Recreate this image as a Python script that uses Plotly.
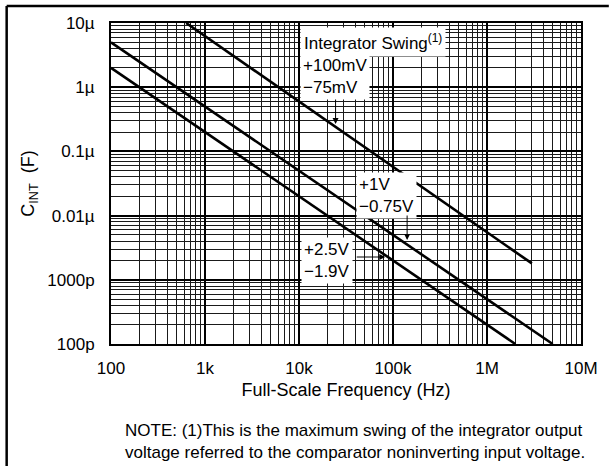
import plotly.graph_objects as go

# ---- data ----
swing_labels = ["+100mV/−75mV", "+1V/−0.75V", "+2.5V/−1.9V"]
freq_start = [630, 100, 100]            # Hz
freq_end = [3.0e6, 5.0e6, 2.0e6]        # Hz
cap_start = [10e-6, 5.0e-6, 2.0e-6]     # F
cap_end = [1.8e-9, 100e-12, 100e-12]    # F
x_tickvals = [1e2, 1e3, 1e4, 1e5, 1e6, 1e7]
x_ticktext = ["100", "1k", "10k", "100k", "1M", "10M"]
y_tickvals = [1e-5, 1e-6, 1e-7, 1e-8, 1e-9, 1e-10]
y_ticktext = ["10µ", "1µ", "0.1µ", "0.01µ", "1000p", "100p"]

W, H = 610, 466
L, R, T, B = 111, 584, 23, 344


def px(x):
    return (x - L) / (R - L)


def py(y):
    return (B - y) / (B - T)


fig = go.Figure()
for i in range(3):
    fig.add_trace(go.Scatter(
        x=[freq_start[i], freq_end[i]], y=[cap_start[i], cap_end[i]],
        mode="lines", line=dict(color="black", width=2.6),
        name=swing_labels[i], showlegend=False, hoverinfo="skip"))

x_minor = [m * 10 ** e for e in range(2, 7) for m in range(2, 10)]
y_minor = [m * 10 ** e for e in range(-10, -5) for m in range(2, 10)]

font = "Liberation Sans, Arial, sans-serif"

fig.update_xaxes(
    type="log", range=[2, 7], tickvals=x_tickvals, ticktext=x_ticktext,
    showgrid=True, gridcolor="black", gridwidth=2.2,
    minor=dict(tickvals=x_minor, showgrid=True, gridcolor="#1a1a1a", gridwidth=1, ticks=""),
    showline=True, linecolor="black", linewidth=2, mirror=True,
    ticks="", ticklabelstandoff=8, zeroline=False,
    tickfont=dict(size=17, color="black", family=font),
    title=dict(text="Full-Scale Frequency (Hz)", font=dict(size=18, color="black", family=font), standoff=6),
)
fig.update_yaxes(
    type="log", range=[-10, -5], tickvals=y_tickvals, ticktext=y_ticktext,
    showgrid=True, gridcolor="black", gridwidth=2.2,
    minor=dict(tickvals=y_minor, showgrid=True, gridcolor="#1a1a1a", gridwidth=1, ticks=""),
    showline=True, linecolor="black", linewidth=2, mirror=True,
    ticks="", ticklabelstandoff=11, zeroline=False,
    tickfont=dict(size=17, color="black", family=font),
    title=dict(text="C<sub>INT</sub>  (F)", font=dict(size=18, color="black", family=font), standoff=8),
)

anns = []
box_font = dict(size=17, color="black", family=font)
anns.append(dict(text="Integrator Swing<sup>(1)</sup>", x=px(301), y=py(27), xanchor="left", yanchor="top",
                 showarrow=False, bgcolor="white", borderpad=3, font=box_font, align="left"))
anns.append(dict(text="+100mV<br>−75mV", x=px(301), y=py(53), xanchor="left", yanchor="top",
                 showarrow=False, bgcolor="white", borderpad=2, font=box_font, align="left"))
anns.append(dict(text="+1V<br>−0.75V", x=px(358), y=py(172), xanchor="left", yanchor="top",
                 showarrow=False, bgcolor="white", borderpad=2, font=box_font, align="left"))
anns.append(dict(text="+2.5V<br>−1.9V", x=px(302), y=py(237), xanchor="left", yanchor="top",
                 showarrow=False, bgcolor="white", borderpad=2, font=box_font, align="left"))
# arrows
for hx, hy, ax, ay in [(337, 124, 0, -26), (409, 240, 0, -26), (387, 257, -30, 0)]:
    anns.append(dict(text="", x=px(hx), y=py(hy), xref="paper", yref="paper", showarrow=True,
                     ax=ax, ay=ay, arrowhead=2, arrowsize=1.2, arrowwidth=1, arrowcolor="black", standoff=0))
anns.append(dict(text="NOTE: (1)This is the maximum swing of the integrator output<br>"
                      "voltage referred to the comparator noninverting input voltage.",
                 x=px(123), y=py(419), xanchor="left", yanchor="top", showarrow=False,
                 align="left", font=dict(size=17, color="black", family=font)))
for a in anns:
    a.setdefault("xref", "paper")
    a.setdefault("yref", "paper")

shapes = [
    dict(type="line", xref="paper", yref="paper", x0=px(6), x1=px(612), y0=py(6), y1=py(6),
         line=dict(color="black", width=2.5)),
    dict(type="line", xref="paper", yref="paper", x0=px(6), x1=px(6), y0=py(6), y1=py(470),
         line=dict(color="black", width=2.5)),
]

fig.update_layout(
    width=W, height=H, margin=dict(l=L, r=W - R, t=T, b=H - B),
    plot_bgcolor="white", paper_bgcolor="white",
    annotations=anns, shapes=shapes, showlegend=False,
    font=dict(family=font, color="black"),
)
fig.write_html("out.html", config={"displayModeBar": False},
               post_script="document.body.style.margin='0';document.body.style.overflow='hidden';")
